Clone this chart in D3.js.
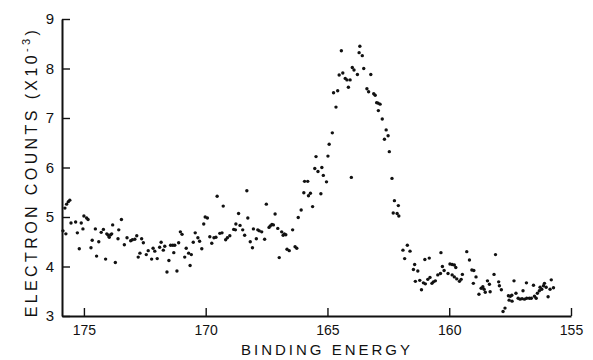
<!DOCTYPE html>
<html>
<head>
<meta charset="utf-8">
<script src="https://cdn.jsdelivr.net/npm/d3@7"></script>
</head>
<body style="margin:0; background:#fff">
<svg id="chart" width="593" height="360" font-family="Liberation Sans, Arial, sans-serif"></svg>
<script>
// binding energy (eV) of each measured point
const energy = [
  175.86, 175.78, 175.74, 175.71, 175.64, 175.58, 175.53, 175.34, 175.27, 175.19,
  175.11, 175.04, 175.00, 174.89, 174.83, 174.71, 174.66, 174.53, 174.48, 174.39,
  174.29, 174.20, 174.11, 174.06, 174.00, 173.96, 173.90, 173.86, 173.82, 173.71,
  173.60, 173.57, 173.46, 173.34, 173.23, 173.08, 173.01, 172.91, 172.83, 172.77,
  172.70, 172.63, 172.56, 172.44, 172.36, 172.22, 172.16, 172.09, 171.99, 171.89,
  171.83, 171.74, 171.68, 171.59, 171.51, 171.44, 171.35, 171.31, 171.27, 171.18,
  171.11, 171.04, 170.97, 170.86, 170.80, 170.70, 170.64, 170.59, 170.51, 170.43,
  170.32, 170.25, 170.16, 170.08, 170.02, 169.93, 169.83, 169.75, 169.66, 169.58,
  169.53, 169.42, 169.33, 169.28, 169.18, 169.11, 169.01, 168.85, 168.78, 168.76,
  168.65, 168.59, 168.48, 168.40, 168.31, 168.27, 168.17, 168.08, 168.04, 167.92,
  167.86, 167.80, 167.70, 167.58, 167.51, 167.40, 167.35, 167.28, 167.22, 167.15,
  167.04, 166.98, 166.88, 166.82, 166.77, 166.71, 166.66, 166.57, 166.43, 166.33,
  166.26, 166.20, 166.08, 165.97, 165.94, 165.81, 165.78, 165.70, 165.61, 165.52,
  165.47, 165.39, 165.27, 165.23, 165.17, 165.04, 164.98, 164.93, 164.80, 164.75,
  164.65, 164.58, 164.52, 164.43, 164.37, 164.27, 164.20, 164.14, 164.07, 164.02,
  163.98, 163.91, 163.77, 163.70, 163.67, 163.57, 163.51, 163.38, 163.31, 163.22,
  163.10, 163.04, 162.98, 162.92, 162.91, 162.84, 162.75, 162.66, 162.59, 162.51,
  162.46, 162.35, 162.30, 162.25, 162.14, 162.09, 162.07, 161.90, 161.83, 161.72,
  161.61, 161.47, 161.42, 161.39, 161.29, 161.21, 161.14, 161.06, 161.00, 160.98,
  160.88, 160.82, 160.79, 160.71, 160.65, 160.57, 160.47, 160.36, 160.34, 160.28,
  160.21, 160.05, 159.97, 159.88, 159.88, 159.79, 159.79, 159.73, 159.69, 159.58,
  159.51, 159.46, 159.28, 159.17, 159.07, 159.01, 158.99, 158.90, 158.78, 158.69,
  158.62, 158.57, 158.52, 158.43, 158.35, 158.32, 158.16, 158.10, 157.97, 157.94,
  157.86, 157.79, 157.71, 157.57, 157.54, 157.49, 157.43, 157.42, 157.34, 157.26,
  157.17, 157.09, 157.01, 156.97, 156.91, 156.83, 156.82, 156.71, 156.63, 156.54,
  156.50, 156.43, 156.38, 156.30, 156.27, 156.20, 156.13, 156.09, 156.02, 155.94,
  155.86, 155.81, 155.72
];

// electron counts (x10^-3), same order as energy
const counts = [
  4.72, 5.18, 4.66, 5.26, 5.31, 5.34, 4.88, 4.90, 4.68, 4.36,
  4.88, 4.76, 5.02, 4.98, 4.95, 4.38, 4.53, 4.76, 4.21, 4.50,
  4.69, 4.75, 4.15, 4.66, 4.63, 4.59, 4.64, 4.66, 4.84, 4.08,
  4.56, 4.74, 4.95, 4.44, 4.58, 4.52, 4.54, 4.55, 4.62, 4.19,
  4.27, 4.56, 4.48, 4.24, 4.32, 4.15, 4.37, 4.31, 4.16, 4.39,
  4.49, 4.33, 4.41, 3.89, 4.12, 4.43, 4.43, 4.28, 4.43, 3.91,
  4.48, 4.70, 4.65, 4.19, 4.37, 4.27, 4.02, 4.24, 4.49, 4.68,
  4.58, 4.51, 4.36, 4.86, 5.00, 4.98, 4.60, 4.47, 4.58, 4.59,
  5.42, 4.67, 4.68, 5.22, 4.54, 4.58, 4.62, 4.75, 4.74, 4.86,
  5.07, 4.83, 4.74, 4.63, 5.53, 4.98, 4.50, 4.38, 4.76, 4.56,
  4.74, 4.72, 4.70, 4.55, 5.26, 4.79, 4.82, 4.85, 4.84, 5.06,
  4.77, 4.18, 4.70, 4.63, 4.66, 4.64, 4.35, 4.32, 4.74, 4.40,
  4.37, 4.99, 5.14, 5.49, 5.72, 5.72, 5.43, 5.48, 5.21, 5.98,
  6.22, 5.92, 5.47, 6.00, 5.84, 5.71, 6.23, 6.47, 6.70, 7.51,
  7.22, 7.55, 7.87, 8.36, 7.91, 7.80, 7.77, 7.62, 7.77, 5.80,
  8.02, 7.97, 7.88, 8.32, 8.45, 8.26, 8.00, 7.59, 7.53, 7.88,
  7.49, 7.46, 7.31, 7.30, 7.15, 7.28, 6.98, 6.57, 6.76, 6.64,
  6.32, 5.78, 5.08, 5.33, 5.07, 5.23, 5.02, 4.33, 4.16, 4.43,
  4.31, 3.94, 4.04, 3.70, 3.91, 3.72, 3.53, 3.67, 4.14, 3.65,
  3.74, 4.17, 3.78, 3.66, 3.69, 3.71, 3.83, 3.86, 4.28, 4.00,
  3.92, 3.86, 4.05, 4.04, 3.83, 4.03, 3.79, 3.98, 3.75, 3.70,
  3.74, 3.84, 4.30, 4.13, 3.93, 3.66, 3.92, 3.79, 3.44, 3.56,
  3.59, 3.54, 3.48, 3.71, 3.64, 3.49, 3.84, 4.24, 3.69, 3.61,
  3.53, 3.09, 3.16, 3.41, 3.32, 3.40, 3.42, 3.30, 3.71, 3.46,
  3.36, 3.34, 3.35, 3.51, 3.34, 3.67, 3.36, 3.36, 3.36, 3.62,
  3.40, 3.36, 3.46, 3.51, 3.58, 3.54, 3.61, 3.66, 3.58, 3.39,
  3.54, 3.73, 3.57
];

const xTicks = [175, 170, 165, 160, 155];
const yTicks = [3, 4, 5, 6, 7, 8, 9];

const svg = d3.select('#chart');

const xScale = d3.scaleLinear()
  .domain([175.9, 155])
  .range([62, 571]);

const yScale = d3.scaleLinear()
  .domain([3, 9])
  .range([316, 19]);

const [x0, x1] = xScale.range();
const [y0, y1] = yScale.range();
const tickLen = 8;

// Points first, axes on top
svg.append('g')
  .selectAll('circle')
  .data(energy)
  .enter()
  .append('circle')
  .attr('cx', d => xScale(d))
  .attr('cy', (d, i) => yScale(counts[i]))
  .attr('r', 1.7)
  .attr('fill', '#111');

// X axis, ticks pointing up into the plot
const xAxis = svg.append('g')
  .attr('transform', `translate(0,${y0})`)
  .call(d3.axisBottom(xScale)
    .tickValues(xTicks)
    .tickFormat(d3.format('d'))
    .tickSizeInner(-tickLen)
    .tickSizeOuter(0)
    .tickPadding(9));
xAxis.select('.domain').attr('stroke', '#111').attr('stroke-width', 2);
xAxis.selectAll('.tick line').attr('stroke', '#111').attr('stroke-width', 1.4);
xAxis.selectAll('.tick text').attr('font-size', 14).attr('fill', '#111');

// Y axis, ticks pointing right into the plot
const yAxis = svg.append('g')
  .attr('transform', `translate(${x0},0)`)
  .call(d3.axisLeft(yScale)
    .tickValues(yTicks)
    .tickFormat(d3.format('d'))
    .tickSizeInner(-tickLen)
    .tickSizeOuter(0)
    .tickPadding(8));
yAxis.select('.domain').attr('stroke', '#111').attr('stroke-width', 2);
yAxis.selectAll('.tick line').attr('stroke', '#111').attr('stroke-width', 1.4);
yAxis.selectAll('.tick text').attr('font-size', 15).attr('fill', '#111');

// Axis titles
svg.append('text')
  .attr('x', 327)
  .attr('y', 355)
  .attr('text-anchor', 'middle')
  .attr('font-size', 15)
  .attr('letter-spacing', 3)
  .attr('fill', '#111')
  .text('BINDING ENERGY');

const yTitle = svg.append('text')
  .attr('transform', 'translate(37,172)rotate(-90)')
  .attr('text-anchor', 'middle')
  .attr('font-size', 16)
  .attr('letter-spacing', 3.4)
  .attr('fill', '#111');
yTitle.append('tspan').text('ELECTRON COUNTS (X10');
yTitle.append('tspan').attr('dy', -7).attr('font-size', 11).text('-3');
yTitle.append('tspan').attr('dy', 7).text(')');
</script>
</body>
</html>
